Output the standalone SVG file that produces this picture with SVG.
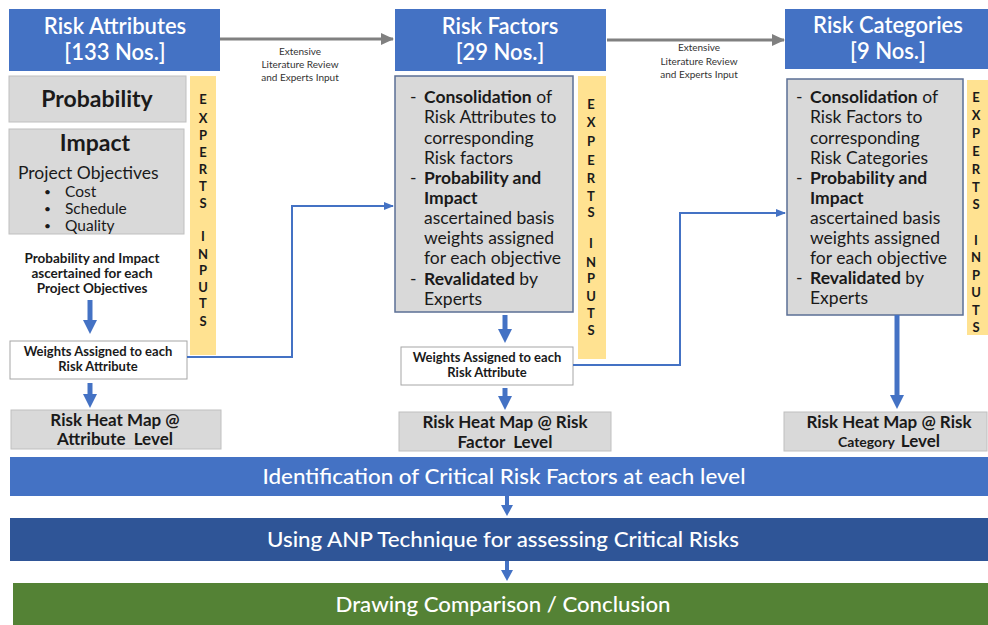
<svg xmlns="http://www.w3.org/2000/svg" width="988" height="625" viewBox="0 0 988 625">
  <defs>
    <marker id="grayHead" markerUnits="userSpaceOnUse" markerWidth="14" markerHeight="12" refX="12" refY="6" orient="auto">
      <path d="M0,0 L13,6 L0,12 Z" fill="#808080"/>
    </marker>
    <marker id="thinHead" markerUnits="userSpaceOnUse" markerWidth="10" markerHeight="8" refX="9" refY="4" orient="auto">
      <path d="M0,0 L10,4 L0,8 Z" fill="#4472C4"/>
    </marker>
    <marker id="blockHead" markerUnits="userSpaceOnUse" markerWidth="18" markerHeight="14" refX="2" refY="7" orient="auto">
      <path d="M0,0 L14,7 L0,14 Z" fill="#4472C4"/>
    </marker>
    <marker id="smallBlockHead" markerUnits="userSpaceOnUse" markerWidth="14" markerHeight="12" refX="2" refY="6" orient="auto">
      <path d="M0,0 L11,6 L0,12 Z" fill="#4472C4"/>
    </marker>
  </defs>
  <style>
    text { font-family: Lato, "Open Sans", "Liberation Sans", sans-serif; fill: #1a1a1a; }
    .hdr rect { fill: #4472C4; }
    .hdr text { fill: #ffffff; font-size: 22px; font-weight: 600; text-anchor: middle; }
    .gray { fill: #D9D9D9; stroke: #BFBFBF; stroke-width: 1; }
    .grayB { fill: #D9D9D9; stroke: #5B6F95; stroke-width: 1.5; }
    .white { fill: #ffffff; stroke: #A6A6A6; stroke-width: 1; }
    .yellow { fill: #FFE291; }
    .exp { font-size: 13px; font-weight: 700; text-anchor: middle; }
    .body { font-size: 17.5px; }
    .b { font-weight: 700; }
    .lbl { font-size: 10px; fill: #333333; text-anchor: middle; }
    .sm { font-size: 13.5px; font-weight: 700; text-anchor: middle; }
    .wt { font-size: 13px; font-weight: 700; text-anchor: middle; }
    .heat { font-size: 17px; font-weight: 700; text-anchor: middle; }
    .bar text { fill: #ffffff; font-size: 21px; font-weight: 500; text-anchor: middle; }
    .conn { fill: none; stroke: #4472C4; stroke-width: 2; }
    .block { fill: none; stroke: #4472C4; stroke-width: 5; }
    .block2 { fill: none; stroke: #4472C4; stroke-width: 4; }
  </style>

  <!-- Column 1: risk attributes -->
  <g id="risk-attributes" class="hdr">
    <rect x="9" y="9" width="211" height="62"/>
    <text x="115" y="34">Risk Attributes</text>
    <text x="115" y="60">[133 Nos.]</text>
  </g>
  <g id="probability">
    <rect class="gray" x="9" y="76" width="177" height="46"/>
    <text x="97" y="107" font-size="23" font-weight="700" text-anchor="middle">Probability</text>
  </g>
  <g id="impact">
    <rect class="gray" x="9" y="129" width="175" height="105"/>
    <text x="95" y="151" font-size="23" font-weight="700" text-anchor="middle">Impact</text>
    <text x="18" y="179" font-size="17.5">Project Objectives</text>
    <text x="44" y="196" font-size="12">•</text>
    <text x="65" y="197" font-size="15.5">Cost</text>
    <text x="44" y="213" font-size="12">•</text>
    <text x="65" y="214" font-size="15.5">Schedule</text>
    <text x="44" y="230" font-size="12">•</text>
    <text x="65" y="231" font-size="15.5">Quality</text>
  </g>
  <g id="experts-inputs-1">
    <rect class="yellow" x="190" y="76" width="26" height="279"/>
    <text class="exp" x="203" y="104">E</text>
    <text class="exp" x="203" y="123">X</text>
    <text class="exp" x="203" y="140">P</text>
    <text class="exp" x="203" y="157">E</text>
    <text class="exp" x="203" y="174">R</text>
    <text class="exp" x="203" y="191">T</text>
    <text class="exp" x="203" y="208">S</text>
    <text class="exp" x="203" y="241">I</text>
    <text class="exp" x="203" y="259">N</text>
    <text class="exp" x="203" y="275">P</text>
    <text class="exp" x="203" y="292">U</text>
    <text class="exp" x="203" y="308">T</text>
    <text class="exp" x="203" y="326">S</text>
  </g>
  <g id="pi-note">
    <text class="sm" x="92" y="263">Probability and Impact</text>
    <text class="sm" x="92" y="278">ascertained for each</text>
    <text class="sm" x="92" y="293">Project Objectives</text>
  </g>
  <g id="weights-1">
    <rect class="white" x="10" y="341" width="177" height="38"/>
    <text class="wt" x="98" y="356">Weights Assigned to each</text>
    <text class="wt" x="98" y="371">Risk Attribute</text>
  </g>
  <g id="heatmap-1">
    <rect class="gray" x="11" y="410" width="210" height="39"/>
    <text class="heat" x="115" y="426">Risk Heat Map @</text>
    <text class="heat" x="115" y="445" xml:space="preserve">Attribute  Level</text>
  </g>

  <!-- Column 2: risk factors -->
  <g id="risk-factors" class="hdr">
    <rect x="395" y="9" width="211" height="62"/>
    <text x="500" y="34">Risk Factors</text>
    <text x="500" y="60">[29 Nos.]</text>
  </g>
  <g id="factors-detail">
    <rect class="grayB" x="395" y="76" width="178" height="236"/>
    <g class="body">
      <text x="410" y="103">-</text>
      <text x="424" y="103"><tspan class="b">Consolidation</tspan> of</text>
      <text x="424" y="123">Risk Attributes to</text>
      <text x="424" y="144">corresponding</text>
      <text x="424" y="164">Risk factors</text>
      <text x="410" y="184">-</text>
      <text x="424" y="184" class="b">Probability and</text>
      <text x="424" y="204" class="b">Impact</text>
      <text x="424" y="224">ascertained basis</text>
      <text x="424" y="244">weights assigned</text>
      <text x="424" y="264">for each objective</text>
      <text x="410" y="285">-</text>
      <text x="424" y="285"><tspan class="b">Revalidated</tspan> by</text>
      <text x="424" y="305">Experts</text>
    </g>
  </g>
  <g id="experts-inputs-2">
    <rect class="yellow" x="578" y="76" width="28" height="283"/>
    <text class="exp" x="591" y="109">E</text>
    <text class="exp" x="591" y="127">X</text>
    <text class="exp" x="591" y="146">P</text>
    <text class="exp" x="591" y="165">E</text>
    <text class="exp" x="591" y="183">R</text>
    <text class="exp" x="591" y="201">T</text>
    <text class="exp" x="591" y="217">S</text>
    <text class="exp" x="591" y="248">I</text>
    <text class="exp" x="591" y="267">N</text>
    <text class="exp" x="591" y="283">P</text>
    <text class="exp" x="591" y="301">U</text>
    <text class="exp" x="591" y="318">T</text>
    <text class="exp" x="591" y="335">S</text>
  </g>
  <g id="weights-2">
    <rect class="white" x="401" y="347" width="172" height="38"/>
    <text class="wt" x="487" y="362">Weights Assigned to each</text>
    <text class="wt" x="487" y="377">Risk Attribute</text>
  </g>
  <g id="heatmap-2">
    <rect class="gray" x="399" y="412" width="212" height="39"/>
    <text class="heat" x="505" y="428">Risk Heat Map @ Risk</text>
    <text class="heat" x="505" y="448" xml:space="preserve">Factor  Level</text>
  </g>

  <!-- Column 3: risk categories -->
  <g id="risk-categories" class="hdr">
    <rect x="785" y="9" width="210" height="60"/>
    <text x="888" y="33">Risk Categories</text>
    <text x="888" y="59">[9 Nos.]</text>
  </g>
  <g id="categories-detail">
    <rect class="grayB" x="787" y="79" width="176" height="236"/>
    <g class="body">
      <text x="796" y="103">-</text>
      <text x="810" y="103"><tspan class="b">Consolidation</tspan> of</text>
      <text x="810" y="123">Risk Factors to</text>
      <text x="810" y="144">corresponding</text>
      <text x="810" y="164">Risk Categories</text>
      <text x="796" y="184">-</text>
      <text x="810" y="184" class="b">Probability and</text>
      <text x="810" y="204" class="b">Impact</text>
      <text x="810" y="224">ascertained basis</text>
      <text x="810" y="244">weights assigned</text>
      <text x="810" y="264">for each objective</text>
      <text x="796" y="284">-</text>
      <text x="810" y="284"><tspan class="b">Revalidated</tspan> by</text>
      <text x="810" y="304">Experts</text>
    </g>
  </g>
  <g id="experts-inputs-3">
    <rect class="yellow" x="967" y="80" width="25" height="255"/>
    <text class="exp" x="976" y="102">E</text>
    <text class="exp" x="976" y="120">X</text>
    <text class="exp" x="976" y="138">P</text>
    <text class="exp" x="976" y="156">E</text>
    <text class="exp" x="976" y="174">R</text>
    <text class="exp" x="976" y="192">T</text>
    <text class="exp" x="976" y="209">S</text>
    <text class="exp" x="976" y="245">I</text>
    <text class="exp" x="976" y="262">N</text>
    <text class="exp" x="976" y="280">P</text>
    <text class="exp" x="976" y="297">U</text>
    <text class="exp" x="976" y="315">T</text>
    <text class="exp" x="976" y="332">S</text>
  </g>
  <g id="heatmap-3">
    <rect class="gray" x="784" y="412" width="203" height="39"/>
    <text class="heat" x="889" y="428">Risk Heat Map @ Risk</text>
    <text x="889" y="447" text-anchor="middle" font-weight="700"><tspan font-size="14">Category</tspan><tspan font-size="17" dx="6">Level</tspan></text>
  </g>

  <!-- Bottom process bars -->
  <g id="identification" class="bar">
    <rect x="10" y="457" width="980" height="39" fill="#4472C4"/>
    <text x="504" y="484" textLength="483" lengthAdjust="spacingAndGlyphs">Identification of Critical Risk Factors at each level</text>
  </g>
  <g id="anp" class="bar">
    <rect x="10" y="518" width="980" height="43" fill="#2F5597"/>
    <text x="503" y="547" textLength="472" lengthAdjust="spacingAndGlyphs">Using ANP Technique for assessing Critical Risks</text>
  </g>
  <g id="conclusion" class="bar">
    <rect x="13" y="583" width="977" height="42" fill="#548235"/>
    <text x="503" y="612" textLength="335" lengthAdjust="spacingAndGlyphs">Drawing Comparison / Conclusion</text>
  </g>

  <!-- Connectors -->
  <g id="connectors">
    <line x1="220" y1="39" x2="393" y2="39" stroke="#808080" stroke-width="3" marker-end="url(#grayHead)"/>
    <text class="lbl" x="300" y="55">Extensive</text>
    <text class="lbl" x="300" y="68">Literature Review</text>
    <text class="lbl" x="300" y="81">and Experts Input</text>
    <line x1="607" y1="40" x2="784" y2="40" stroke="#808080" stroke-width="3" marker-end="url(#grayHead)"/>
    <text class="lbl" x="699" y="51">Extensive</text>
    <text class="lbl" x="699" y="65">Literature Review</text>
    <text class="lbl" x="699" y="78">and Experts Input</text>

    <polyline class="conn" points="187,357 292,357 292,206 393,206" marker-end="url(#thinHead)"/>
    <polyline class="conn" points="573,365 680,365 680,213 785,213" marker-end="url(#thinHead)"/>

    <line class="block" x1="90" y1="300" x2="90" y2="322" marker-end="url(#blockHead)"/>
    <line class="block" x1="90" y1="383" x2="90" y2="396" marker-end="url(#blockHead)"/>
    <line class="block" x1="505" y1="315" x2="505" y2="331" marker-end="url(#blockHead)"/>
    <line class="block" x1="505" y1="388" x2="505" y2="398" marker-end="url(#blockHead)"/>
    <line class="block" x1="897" y1="315" x2="897" y2="397" marker-end="url(#blockHead)"/>
    <line class="block2" x1="507" y1="496" x2="507" y2="507" marker-end="url(#smallBlockHead)"/>
    <line class="block2" x1="507" y1="561" x2="507" y2="572" marker-end="url(#smallBlockHead)"/>
  </g>
</svg>
